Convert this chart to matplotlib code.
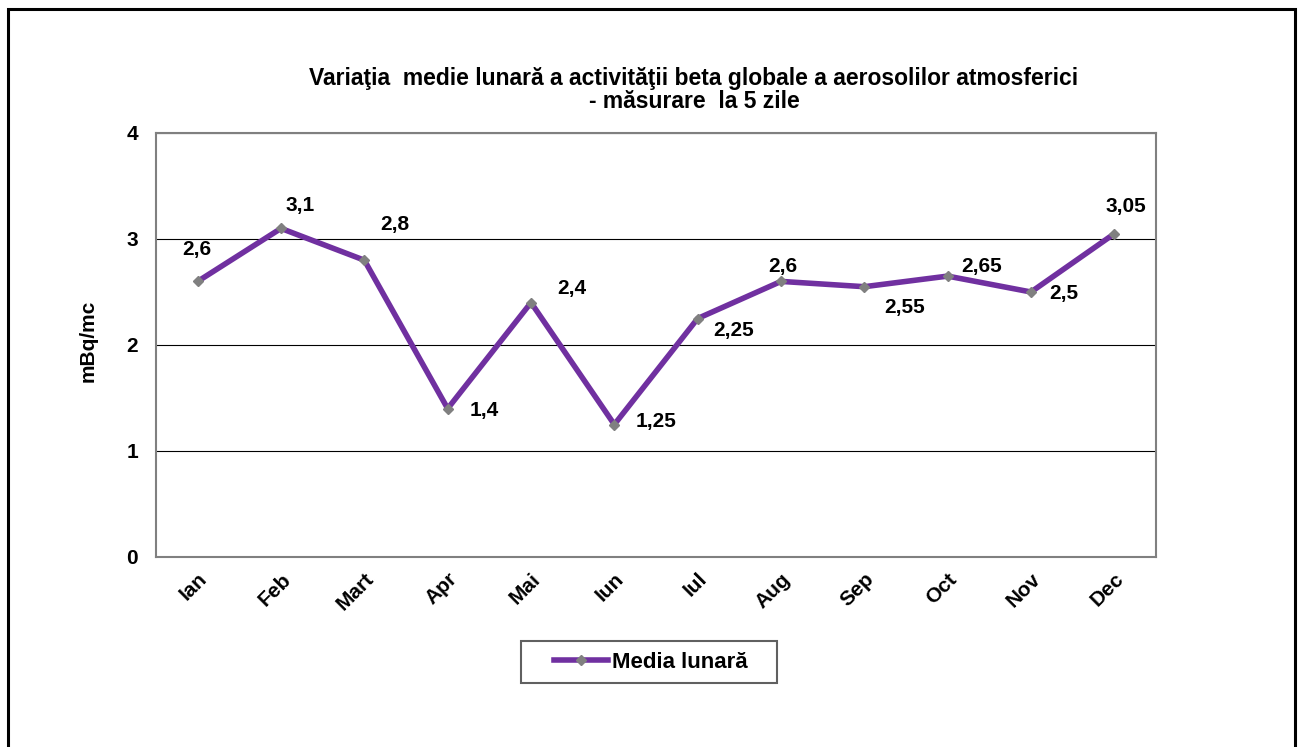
import matplotlib
matplotlib.use("Agg")
import matplotlib.pyplot as plt
from matplotlib.patches import Rectangle

plt.rcParams['font.family'] = ['Liberation Sans', 'DejaVu Sans']
plt.rcParams['font.weight'] = 'bold'

months = ["Ian", "Feb", "Mart", "Apr", "Mai", "Iun", "Iul", "Aug", "Sep", "Oct", "Nov", "Dec"]
media_lunara = [2.6, 3.1, 2.8, 1.4, 2.4, 1.25, 2.25, 2.6, 2.55, 2.65, 2.5, 3.05]
value_labels = ["2,6", "3,1", "2,8", "1,4", "2,4", "1,25", "2,25", "2,6", "2,55", "2,65", "2,5", "3,05"]

# label offsets in pixels (dx, dy)
label_offsets = [(-1, 32), (19, 23), (30, 36), (37, -2), (41, 14), (42, 3),
                 (36, -12), (2, 15), (40, -21), (34, 10), (33, -2), (12, 27)]

W, H = 1301, 747
fig = plt.figure(figsize=(W / 100, H / 100), dpi=100)
ax = fig.add_axes([156 / W, 1 - 557 / H, 1000 / W, 424 / H])

x = list(range(len(months)))
ax.plot(x, media_lunara, color="#7030A0", linewidth=4, marker="D", markersize=5.5,
        markerfacecolor="#808080", markeredgecolor="#808080", label="Media lunară", zorder=3)

for i, (v, lab) in enumerate(zip(media_lunara, value_labels)):
    dx, dy = label_offsets[i]
    ax.annotate(lab, (i, v), xytext=(dx, dy), textcoords="offset pixels",
                ha="center", va="center", fontsize=15, fontweight="bold")

ax.set_xlim(-0.5, 11.5)
ax.set_ylim(0, 4)
ax.set_yticks([0, 1, 2, 3, 4])
ax.set_xticks(x)
ax.set_xticklabels(months, rotation=45, ha="right", rotation_mode="anchor")
ax.tick_params(axis="both", length=0, labelsize=15, pad=9)
ax.tick_params(axis="y", pad=13)
ax.grid(axis="y", color="black", linewidth=0.8)
ax.set_axisbelow(True)
for s in ax.spines.values():
    s.set_color("#808080")
    s.set_linewidth(1.5)

ax.set_ylabel("mBq/mc", fontsize=15, fontweight="bold")
ax.yaxis.set_label_coords(-58 / 1000, 0.51)
fig.text(694 / W, 1 - 90 / H, "Variaţia  medie lunară a activităţii beta globale a aerosolilor atmosferici\n- măsurare  la 5 zile",
         ha="center", va="center", fontsize=16.5, fontweight="bold", linespacing=1.0)

leg = ax.legend(loc="center", bbox_to_anchor=(651 / W, 1 - 662 / H), bbox_transform=fig.transFigure,
                fontsize=16, frameon=False, handlelength=2.4, handletextpad=0.2,
                borderpad=0, borderaxespad=0)

# legend box
fig.patches.append(Rectangle((521 / W, 1 - 683 / H), 256 / W, 42 / H, transform=fig.transFigure,
                             fill=False, edgecolor="#606060", linewidth=1.5))
# outer border of the chart
fig.patches.append(Rectangle((8 / W, -0.05), 1287 / W, 1.05 - 9 / H, transform=fig.transFigure,
                             fill=False, edgecolor="black", linewidth=2.2))

fig.savefig("out.png", dpi=100)
